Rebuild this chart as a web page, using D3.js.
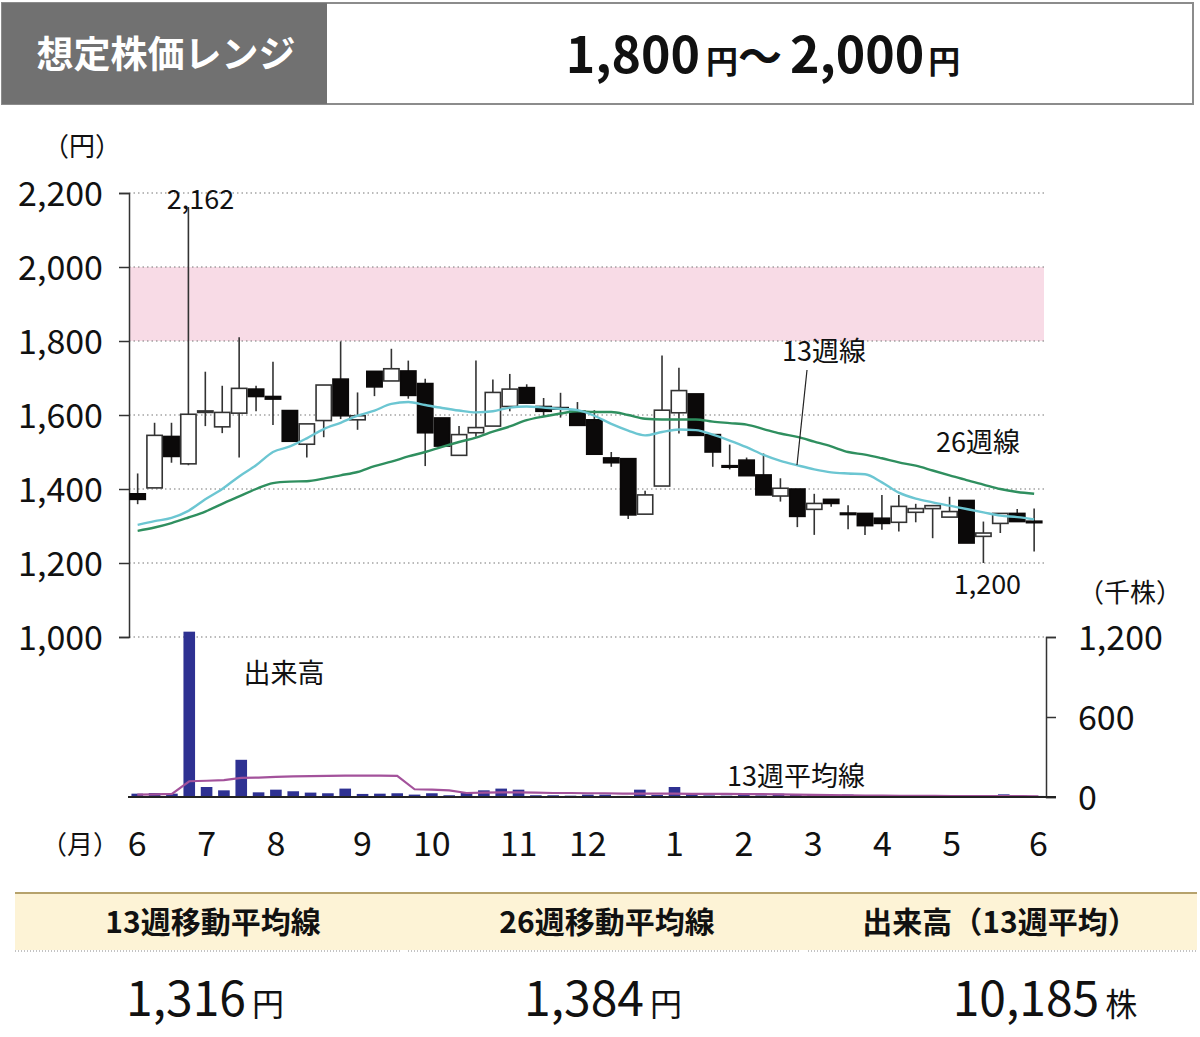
<!DOCTYPE html>
<html>
<head>
<meta charset="utf-8">
<script src="https://cdn.jsdelivr.net/npm/d3@7"></script>
<style>
  body { margin: 0; background: #fff; }
  svg text { font-family: "Noto Sans CJK JP", "Noto Sans", sans-serif; }
</style>
</head>
<body>
<svg id="chart" width="1200" height="1037"></svg>
<script>
// weekly candles (円)
const opens  = [1387,1403,1542,1468,1607,1568,1605,1670,1650,1612,1521,1585,1697,1587,1718,1692,1719,1685,1592,1491,1552,1570,1623,1674,1623,1620,1610,1587,1484,1482,1332,1408,1606,1657,1547,1463,1478,1438,1381,1400,1345,1372,1335,1334,1321,1310,1337,1347,1324,1369,1272,1307,1334,1313];
const highs  = [1442,1579,1579,2162,1717,1679,1810,1679,1744,1612,1576,1681,1799,1661,1718,1779,1747,1698,1592,1570,1747,1696,1711,1683,1646,1660,1635,1613,1500,1482,1395,1761,1728,1657,1547,1520,1485,1496,1429,1400,1387,1372,1356,1334,1384,1384,1360,1355,1379,1369,1312,1334,1346,1347];
const lows   = [1359,1403,1471,1464,1570,1551,1485,1610,1573,1529,1485,1540,1589,1560,1651,1692,1644,1462,1516,1491,1541,1570,1610,1632,1595,1593,1572,1494,1460,1319,1332,1408,1550,1545,1460,1453,1436,1384,1366,1297,1276,1352,1291,1276,1290,1285,1310,1267,1324,1254,1200,1281,1312,1231];
const closes = [1372,1545,1488,1602,1611,1607,1672,1650,1643,1529,1576,1681,1598,1598,1676,1725,1653,1552,1516,1547,1566,1661,1670,1632,1610,1616,1572,1494,1471,1330,1384,1613,1666,1545,1500,1461,1436,1384,1402,1326,1361,1361,1333,1301,1307,1353,1347,1355,1339,1254,1281,1334,1312,1311];

// moving averages (円)
const ma13 = [1303,1313,1322,1341,1372,1400,1434,1464,1500,1515,1537,1562,1579,1598,1612,1630,1635,1627,1619,1612,1607,1610,1620,1623,1620,1617,1613,1598,1576,1558,1545,1554,1561,1559,1547,1531,1513,1492,1476,1464,1453,1445,1442,1440,1418,1390,1374,1364,1355,1346,1337,1328,1324,1318];
const ma26 = [1287,1296,1308,1323,1339,1360,1380,1400,1416,1420,1421,1428,1437,1446,1462,1474,1488,1500,1514,1527,1539,1555,1569,1586,1596,1604,1610,1608,1608,1600,1590,1588,1588,1588,1582,1578,1574,1562,1550,1541,1528,1515,1500,1493,1483,1472,1463,1450,1437,1424,1412,1400,1392,1387];

// volume (千株) and its 13-week average
const volumes = [25,30,25,1240,75,50,279,35,55,43,33,28,63,23,25,28,18,28,13,30,50,63,55,13,13,10,18,18,8,55,15,75,30,12,10,20,12,25,20,15,12,18,10,15,8,8,6,6,5,6,20,10,8];
const volAvg  = [18,20,23,118,122,127,143,146,151,154,157,158,160,160,160,158,58,55,50,30,33,35,35,33,30,30,28,28,26,26,25,25,24,24,23,22,21,20,18,16,14,12,11,10,9,8,8,7,7,6,6,6,5];

const priceTicks = [1000,1200,1400,1600,1800,2000,2200];
const volTicks = [0,600,1200];
const monthLabels = ["6","7","8","9","10","11","12","1","2","3","4","5","6"];
const monthWeeks  = [0,4,8,13,17,22,26,31,35,39,43,47,52];
const rangeLow = 1800, rangeHigh = 2000;

const svg = d3.select("#chart");

// header
svg.append("rect").attr("x", 2).attr("y", 3).attr("width", 1191).attr("height", 101)
  .attr("fill", "#fff").attr("stroke", "#8c8c8c").attr("stroke-width", 2);
svg.append("rect").attr("x", 2).attr("y", 3).attr("width", 325).attr("height", 101)
  .attr("fill", "#717171");
svg.append("text").attr("x", 166).attr("y", 68).attr("text-anchor", "middle")
  .attr("fill", "#fff").attr("font-size", 37).attr("font-weight", "bold")
  .text("想定株価レンジ");
const head = svg.append("text").attr("x", 763).attr("y", 73).attr("text-anchor", "middle")
  .attr("font-weight", "bold").attr("fill", "#111");
head.append("tspan").attr("font-size", 50).text("1,800");
head.append("tspan").attr("font-size", 32).attr("dx", 6).text("円");
head.append("tspan").attr("font-size", 44).text("〜");
head.append("tspan").attr("font-size", 50).attr("dx", 8).text("2,000");
head.append("tspan").attr("font-size", 32).attr("dx", 4).text("円");

// scales
const x = d3.scaleBand().domain(d3.range(opens.length)).range([129.2, 1042.6]).padding(0);
const xv = d3.scaleBand().domain(d3.range(volumes.length)).range([128.6, 1047.1]).paddingInner(0.33).paddingOuter(0.165);
const y = d3.scaleLinear().domain([1000, 2200]).range([637, 193]);
const yv = d3.scaleLinear().domain([0, 1200]).range([797, 637]);

// pink target range
svg.append("rect").attr("x", 129).attr("y", y(rangeHigh))
  .attr("width", 1044 - 129).attr("height", y(rangeLow) - y(rangeHigh))
  .attr("fill", "#f8dbe6");

// dotted grid
svg.append("g").selectAll("line").data(priceTicks).join("line")
  .attr("x1", 129).attr("x2", 1046)
  .attr("y1", d => y(d)).attr("y2", d => y(d))
  .attr("stroke", "#777").attr("stroke-width", 1.2).attr("stroke-dasharray", "1.5,3");

// left price axis
const ax = svg.append("g").attr("transform", "translate(129,0)")
  .call(d3.axisLeft(y).tickValues(priceTicks).tickSize(10).tickPadding(16).tickFormat(d3.format(",")));
ax.select(".domain").attr("stroke", "#333").attr("stroke-width", 1.5);
ax.selectAll(".tick line").attr("stroke", "#333").attr("stroke-width", 1.5);
ax.selectAll(".tick text").attr("font-size", 34).attr("fill", "#111")
  .attr("font-family", "'Noto Sans CJK JP', sans-serif").attr("dy", "0.36em");
svg.append("text").attr("x", 82).attr("y", 156).attr("text-anchor", "middle")
  .attr("font-size", 26).attr("fill", "#111").text("（円）");

// right volume axis
const axr = svg.append("g").attr("transform", "translate(1046,0)")
  .call(d3.axisRight(yv).tickValues(volTicks).tickSize(10).tickPadding(22).tickFormat(d3.format(",")));
axr.select(".domain").attr("stroke", "#333").attr("stroke-width", 1.5);
axr.selectAll(".tick line").attr("stroke", "#333").attr("stroke-width", 1.5);
axr.selectAll(".tick text").attr("font-size", 34).attr("fill", "#111")
  .attr("font-family", "'Noto Sans CJK JP', sans-serif").attr("dy", "0.36em");
svg.append("text").attr("x", 1130).attr("y", 602).attr("text-anchor", "middle")
  .attr("font-size", 26).attr("fill", "#111").text("（千株）");

// volume bars
svg.append("g").selectAll("rect").data(volumes).join("rect")
  .attr("x", (d, i) => xv(i)).attr("width", xv.bandwidth())
  .attr("y", d => yv(d)).attr("height", d => yv(0) - yv(d))
  .attr("fill", "#2e3192");

// volume 13-week average
svg.append("path").datum(volAvg)
  .attr("fill", "none").attr("stroke", "#a3529b").attr("stroke-width", 2.2)
  .attr("d", d3.line().x((d, i) => xv(i) + xv.bandwidth() / 2).y(d => yv(d)));

// volume baseline
svg.append("line").attr("x1", 128).attr("x2", 1056).attr("y1", yv(0)).attr("y2", yv(0))
  .attr("stroke", "#222").attr("stroke-width", 2);

// candles
const cg = svg.append("g");
const cx = i => x(i) + x.bandwidth() / 2;
cg.selectAll("line").data(opens).join("line")
  .attr("x1", (d, i) => cx(i)).attr("x2", (d, i) => cx(i))
  .attr("y1", (d, i) => y(highs[i])).attr("y2", (d, i) => y(lows[i]))
  .attr("stroke", "#333").attr("stroke-width", 1.6);
cg.selectAll("rect").data(opens).join("rect")
  .attr("x", (d, i) => x(i) + 0.8).attr("width", x.bandwidth() - 1.6)
  .attr("y", (d, i) => y(Math.max(d, closes[i])))
  .attr("height", (d, i) => Math.max(1.5, Math.abs(y(d) - y(closes[i]))))
  .attr("fill", (d, i) => closes[i] < d ? "#0b0909" : "#fff")
  .attr("stroke", (d, i) => closes[i] < d ? "#0b0909" : "#333")
  .attr("stroke-width", 1.6);

// moving averages
const maLine = d3.line().x((d, i) => cx(i)).y(d => y(d)).curve(d3.curveMonotoneX);
svg.append("path").datum(ma26).attr("fill", "none").attr("stroke", "#2f8f5f")
  .attr("stroke-width", 2.4).attr("d", maLine);
svg.append("path").datum(ma13).attr("fill", "none").attr("stroke", "#6cc6d2")
  .attr("stroke-width", 2.4).attr("d", maLine);

// annotations
const hiIdx = highs.indexOf(d3.max(highs));
const loIdx = lows.indexOf(d3.min(lows));
svg.append("text").attr("x", cx(hiIdx) + 12).attr("y", y(highs[hiIdx]) + 2)
  .attr("text-anchor", "middle").attr("font-size", 27).attr("fill", "#111")
  .text(d3.format(",")(highs[hiIdx]));
svg.append("text").attr("x", cx(loIdx) + 4).attr("y", y(lows[loIdx]) + 31)
  .attr("text-anchor", "middle").attr("font-size", 27).attr("fill", "#111")
  .text(d3.format(",")(lows[loIdx]));
svg.append("text").attr("x", 824).attr("y", 361).attr("text-anchor", "middle")
  .attr("font-size", 27).attr("fill", "#111").text("13週線");
svg.append("line").attr("x1", 807).attr("y1", 370).attr("x2", 797).attr("y2", 465)
  .attr("stroke", "#222").attr("stroke-width", 1.2);
svg.append("text").attr("x", 978).attr("y", 452).attr("text-anchor", "middle")
  .attr("font-size", 27).attr("fill", "#111").text("26週線");
svg.append("text").attr("x", 284).attr("y", 683).attr("text-anchor", "middle")
  .attr("font-size", 27).attr("fill", "#111").text("出来高");
svg.append("text").attr("x", 796).attr("y", 786).attr("text-anchor", "middle")
  .attr("font-size", 27).attr("fill", "#111").text("13週平均線");

// month labels
svg.append("g").selectAll("text").data(monthLabels).join("text")
  .attr("x", (d, i) => xv(monthWeeks[i]) + xv.bandwidth() / 2).attr("y", 856)
  .attr("text-anchor", "middle").attr("font-size", 34).attr("fill", "#111")
  .text(d => d);
svg.append("text").attr("x", 80).attr("y", 854).attr("text-anchor", "middle")
  .attr("font-size", 26).attr("fill", "#111").text("（月）");

// footer table
svg.append("rect").attr("x", 15).attr("y", 894).attr("width", 1182).attr("height", 56).attr("fill", "#fdf3d6");
svg.append("line").attr("x1", 15).attr("x2", 1197).attr("y1", 893).attr("y2", 893)
  .attr("stroke", "#b6a26c").attr("stroke-width", 2);
const footHeads = ["13週移動平均線", "26週移動平均線", "出来高（13週平均）"];
const footValues = ["1,316", "1,384", "10,185"];
const footUnits = ["円", "円", "株"];
const footCenters = [213, 607, 1000];
const footValueCenters = [205, 603, 1045];
const segs = [[15, 400], [408, 800], [808, 1197]];
svg.append("g").selectAll("line").data(segs).join("line")
  .attr("x1", d => d[0]).attr("x2", d => d[1]).attr("y1", 951).attr("y2", 951)
  .attr("stroke", "#888").attr("stroke-width", 1.2).attr("stroke-dasharray", "1,2");
svg.append("g").selectAll("text").data(footHeads).join("text")
  .attr("x", (d, i) => footCenters[i]).attr("y", 933).attr("text-anchor", "middle")
  .attr("font-size", 30).attr("font-weight", "bold").attr("fill", "#111").text(d => d);
footValues.forEach((v, i) => {
  const t = svg.append("text").attr("x", footValueCenters[i]).attr("y", 1016)
    .attr("text-anchor", "middle").attr("fill", "#111");
  t.append("tspan").attr("font-size", 48).text(v);
  t.append("tspan").attr("font-size", 32).attr("dx", 6).text(footUnits[i]);
});
</script>
</body>
</html>
